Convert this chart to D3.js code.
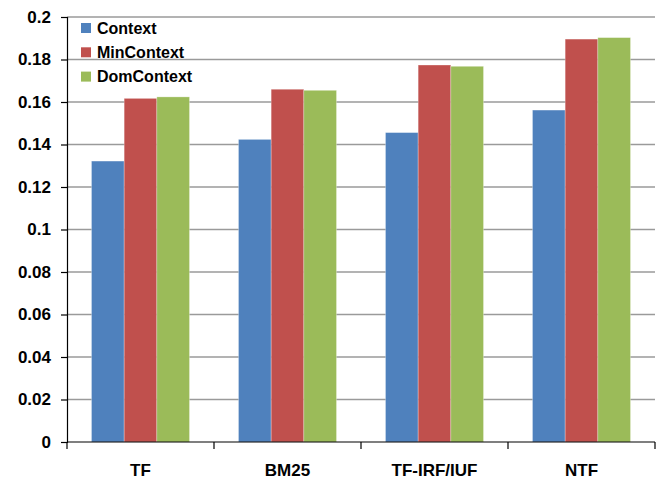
<!DOCTYPE html>
<html>
<head>
<meta charset="utf-8">
<script src="https://cdn.jsdelivr.net/npm/d3@7"></script>
<style>
  html, body { margin: 0; padding: 0; background: #fff; }
  svg { display: block; font-family: "Liberation Sans", Arial, sans-serif; }
</style>
</head>
<body>
<svg id="chart" width="663" height="479"></svg>
<script>
// Retrieval models on the x axis
const categories = ["TF", "BM25", "TF-IRF/IUF", "NTF"];
// Series names and their values per model
const seriesNames = ["Context", "MinContext", "DomContext"];
const contextVals = [0.1322, 0.1424, 0.1456, 0.1562];
const minContextVals = [0.1617, 0.1660, 0.1774, 0.1896];
const domContextVals = [0.1624, 0.1655, 0.1768, 0.1903];
const seriesColors = ["#4F81BD", "#C0504D", "#9BBB59"];
const yTicks = [0, 0.02, 0.04, 0.06, 0.08, 0.1, 0.12, 0.14, 0.16, 0.18, 0.2];
const yTickLabels = ["0", "0.02", "0.04", "0.06", "0.08", "0.1", "0.12", "0.14", "0.16", "0.18", "0.2"];

const seriesValues = [contextVals, minContextVals, domContextVals];

const svg = d3.select("#chart");
const margin = { left: 67, right: 8, top: 17, bottom: 37 };
const W = 663, H = 479;
const plotW = W - margin.left - margin.right;
const plotH = H - margin.top - margin.bottom;

const g = svg.append("g").attr("transform", `translate(${margin.left},${margin.top})`);

const x0 = d3.scaleBand().domain(categories).range([0, plotW]).padding(0);
const x1 = d3.scaleBand().domain(seriesNames)
  .range([x0.bandwidth() / 6, x0.bandwidth() * 5 / 6]).padding(0);
const y = d3.scaleLinear().domain([0, 0.2]).range([plotH, 0]);

// Horizontal gridlines
g.append("g").selectAll("line")
  .data(yTicks.filter(t => t > 0))
  .join("line")
  .attr("x1", 0).attr("x2", plotW)
  .attr("y1", d => y(d)).attr("y2", d => y(d))
  .attr("stroke", "#9a9a9a").attr("stroke-width", 1.5);

// Bars
const groups = g.append("g").selectAll("g")
  .data(categories)
  .join("g")
  .attr("transform", d => `translate(${x0(d)},0)`);

groups.selectAll("rect")
  .data((c, i) => seriesNames.map((s, k) => ({ s, k, v: seriesValues[k][i] })))
  .join("rect")
  .attr("x", d => x1(d.s))
  .attr("width", x1.bandwidth())
  .attr("y", d => y(d.v))
  .attr("height", d => plotH - y(d.v))
  .attr("fill", d => seriesColors[d.k])
  .attr("stroke", "rgba(255,255,255,0.35)")
  .attr("stroke-width", 0.8);

// Y axis
const yAxis = d3.axisLeft(y)
  .tickValues(yTicks)
  .tickFormat((d, i) => yTickLabels[i])
  .tickSize(6)
  .tickPadding(10);
const yg = g.append("g").call(yAxis);
yg.select(".domain").attr("stroke", "#000").attr("stroke-width", 1.2);
yg.selectAll(".tick line").attr("stroke", "#000").attr("stroke-width", 1.2);
yg.selectAll(".tick text")
  .attr("fill", "#000")
  .style("font-size", "17px")
  .style("font-weight", "bold")
  .style("font-family", "'Liberation Sans', Arial, sans-serif");

// X axis with ticks at category boundaries
const xg = g.append("g").attr("transform", `translate(0,${plotH})`);
xg.append("line")
  .attr("x1", 0).attr("x2", plotW)
  .attr("stroke", "#000").attr("stroke-width", 1.2);
const bounds = categories.map(c => x0(c)).concat([plotW]);
xg.selectAll("line.sep")
  .data(bounds)
  .join("line")
  .attr("class", "sep")
  .attr("x1", d => d).attr("x2", d => d)
  .attr("y1", 0).attr("y2", 7)
  .attr("stroke", "#000").attr("stroke-width", 1.2);
xg.selectAll("text")
  .data(categories)
  .join("text")
  .attr("x", d => x0(d) + x0.bandwidth() / 2)
  .attr("y", 34)
  .attr("text-anchor", "middle")
  .style("font-size", "17px")
  .style("font-weight", "bold")
  .text(d => d);

// Legend
const legend = svg.append("g").attr("transform", "translate(81,28)");
const items = legend.selectAll("g")
  .data(seriesNames)
  .join("g")
  .attr("transform", (d, i) => `translate(0,${i * 24.3})`);
items.append("rect")
  .attr("x", 0).attr("y", -5)
  .attr("width", 10).attr("height", 10)
  .attr("fill", (d, i) => seriesColors[i]);
items.append("text")
  .attr("x", 16).attr("y", 0)
  .attr("dy", "0.36em")
  .style("font-size", "16px")
  .style("font-weight", "bold")
  .text(d => d);
</script>
</body>
</html>
